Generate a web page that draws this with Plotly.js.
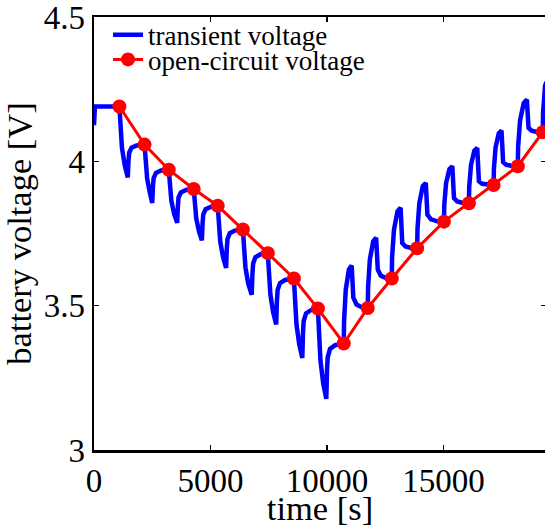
<!DOCTYPE html>
<html>
<head>
<meta charset="utf-8">
<script src="https://cdn.plot.ly/plotly-3.0.1.min.js"></script>
<style>
html, body { margin:0; padding:0; overflow:hidden; background:#fff; }
#chart { width:550px; height:527px; }
</style>
</head>
<body>
<div id="chart"></div>
<script>
// transient voltage (blue)
const timeTransient = [
  0, 40, 1090,
  1130, 1200, 1320, 1450, 1480, 1510, 1610, 1830, 2170,
  2210, 2280, 2400, 2500, 2530, 2560, 2660, 2880, 3210,
  3250, 3320, 3440, 3570, 3600, 3630, 3730, 3950, 4280,
  4320, 4390, 4510, 4630, 4660, 4690, 4790, 5010, 5310,
  5350, 5420, 5540, 5670, 5700, 5730, 5830, 6050, 6390,
  6430, 6500, 6620, 6770, 6800, 6830, 6930, 7150, 7460,
  7500, 7570, 7690, 7820, 7850, 7880, 7980, 8200, 8580,
  8620, 8690, 8810, 8940, 8970, 9000, 9100, 9320, 9610,
  9650, 9720, 9840, 9970, 10000, 10030, 10130, 10350, 10720,
  10735, 10805, 10941, 11060, 11130, 11266, 11502, 11750,
  11765, 11840, 11984, 12110, 12180, 12312, 12540, 12780,
  12795, 12875, 13027, 13160, 13230, 13371, 13614, 13870,
  13885, 13963, 14111, 14240, 14310, 14466, 14736, 15020,
  15035, 15110, 15254, 15380, 15450, 15591, 15834, 16090,
  16105, 16180, 16324, 16450, 16520, 16659, 16898, 17150,
  17165, 17235, 17371, 17490, 17560, 17699, 17938, 18190,
  18205, 18288, 18444, 18580, 18650, 18784, 19016, 19260,
  19275, 19310, 19360, 19420
];
const voltTransient = [
  4.125, 4.190, 4.190,
  4.104, 4.047, 3.986, 3.944, 4.001, 4.030, 4.047, 4.055, 4.058,
  3.987, 3.941, 3.890, 3.856, 3.914, 3.942, 3.960, 3.968, 3.971,
  3.907, 3.864, 3.818, 3.787, 3.846, 3.875, 3.892, 3.901, 3.904,
  3.842, 3.801, 3.756, 3.726, 3.786, 3.816, 3.834, 3.842, 3.846,
  3.771, 3.721, 3.668, 3.631, 3.698, 3.731, 3.751, 3.760, 3.764,
  3.685, 3.633, 3.576, 3.538, 3.610, 3.646, 3.668, 3.678, 3.682,
  3.596, 3.539, 3.477, 3.435, 3.515, 3.554, 3.578, 3.589, 3.594,
  3.498, 3.435, 3.366, 3.319, 3.405, 3.447, 3.473, 3.485, 3.490,
  3.380, 3.309, 3.230, 3.177, 3.273, 3.321, 3.350, 3.363, 3.369,
  3.450, 3.555, 3.626, 3.639, 3.528, 3.504, 3.494, 3.492,
  3.565, 3.660, 3.723, 3.735, 3.625, 3.604, 3.596, 3.594,
  3.668, 3.763, 3.827, 3.839, 3.717, 3.705, 3.700, 3.699,
  3.767, 3.855, 3.914, 3.925, 3.815, 3.799, 3.792, 3.791,
  3.849, 3.924, 3.973, 3.983, 3.873, 3.861, 3.856, 3.855,
  3.912, 3.987, 4.037, 4.046, 3.931, 3.922, 3.919, 3.918,
  3.974, 4.048, 4.097, 4.106, 3.997, 3.988, 3.984, 3.983,
  4.052, 4.142, 4.202, 4.214, 4.116, 4.106, 4.102, 4.101,
  4.170, 4.230, 4.262, 4.275
];
// open-circuit voltage (red)
const timeOCV = [1090, 2170, 3210, 4280, 5310, 6390, 7460, 8580, 9610, 10720,
                 11750, 12780, 13870, 15020, 16090, 17150, 18190, 19260];
const voltOCV = [4.190, 4.058, 3.971, 3.904, 3.846, 3.764, 3.682, 3.594, 3.490, 3.369,
                 3.492, 3.594, 3.699, 3.791, 3.855, 3.918, 3.983, 4.101];

const xTickVals = [0, 5000, 10000, 15000];
const xTickText = ['0', '5000', '10000', '15000'];
const yTickVals = [3, 3.5, 4, 4.5];
const yTickText = ['3', '3.5', '4', '4.5'];

const FONT = 'Liberation Serif';

const traces = [
  {
    x: timeTransient, y: voltTransient, type: 'scatter', mode: 'lines',
    name: 'transient voltage',
    line: {color: 'rgb(0,0,255)', width: 4.5},
    legend: 'legend'
  },
  {
    x: timeOCV, y: voltOCV, type: 'scatter', mode: 'lines+markers',
    name: 'open-circuit voltage',
    line: {color: 'rgb(255,0,0)', width: 3},
    marker: {color: 'rgb(255,0,0)', size: 14, symbol: 'circle'},
    cliponaxis: false,
    legend: 'legend2'
  }
];

const axisCommon = {
  showline: true, linewidth: 2.5, linecolor: 'black', mirror: 'ticks',
  ticks: 'inside', ticklen: 5, tickwidth: 1.5, tickcolor: 'black',
  showgrid: false, zeroline: false, ticklabeloverflow: 'allow',
  tickfont: {family: FONT, size: 33, color: 'black'}
};

const layout = {
  width: 550, height: 527,
  margin: {l: 94, r: 4, t: 17, b: 77, pad: 0},
  paper_bgcolor: 'white', plot_bgcolor: 'white',
  font: {family: FONT, color: 'black'},
  showlegend: true,
  xaxis: Object.assign({}, axisCommon, {
    range: [0, 19400], tickmode: 'array', tickvals: xTickVals, ticktext: xTickText,
    title: {text: 'time [s]', font: {family: FONT, size: 34.5, color: 'black'}, standoff: 0}
  }),
  yaxis: Object.assign({}, axisCommon, {
    range: [3, 4.5], tickmode: 'array', tickvals: yTickVals, ticktext: yTickText,
    title: {text: 'battery voltage [V]', font: {family: FONT, size: 34.5, color: 'black'}, standoff: 4}
  }),
  legend: {
    x: 0.031, y: 0.958, xanchor: 'left', yanchor: 'middle',
    bgcolor: 'rgba(0,0,0,0)', borderwidth: 0,
    font: {family: FONT, size: 27, color: 'black'}
  },
  legend2: {
    x: 0.031, y: 0.901, xanchor: 'left', yanchor: 'middle',
    bgcolor: 'rgba(0,0,0,0)', borderwidth: 0,
    font: {family: FONT, size: 27, color: 'black'}
  }
};

Plotly.newPlot('chart', traces, layout, {displayModeBar: false, staticPlot: true});
</script>
</body>
</html>
